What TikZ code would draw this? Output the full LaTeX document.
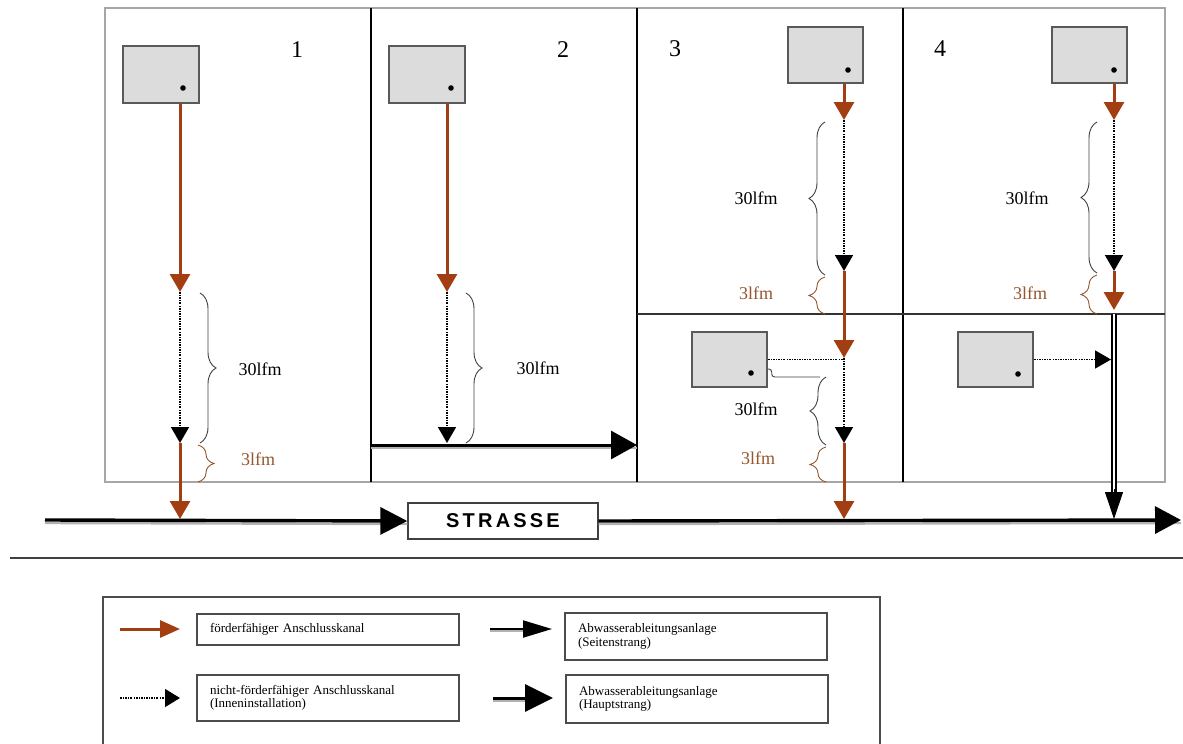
\documentclass[tikz,border=0pt]{standalone}
\usepackage{fontspec}
\setmainfont{Liberation Serif}
\setsansfont{Liberation Sans}
\usetikzlibrary{arrows.meta,decorations.pathreplacing,calc}
\definecolor{kanal}{RGB}{163,62,18}
\definecolor{kanaltext}{RGB}{150,85,45}
\definecolor{hausgrau}{RGB}{220,220,220}
\begin{document}
\begin{tikzpicture}[x=1pt,y=-1pt,
    haus/.style={draw=black!65, line width=1.4pt, fill=hausgrau, minimum width=76pt, minimum height=57pt, inner sep=0pt},
    foerder/.style={draw=kanal, line width=3pt, -{Triangle[length=18pt,width=20pt]}},
    innenlinie/.style={line width=1.6pt, dash pattern=on 2pt off 1.2pt on 0.8pt off 1.2pt},
    innen/.style={innenlinie, -{Triangle[length=16pt,width=18pt]}},
    klammer/.style={decorate, decoration={brace, amplitude=16pt}, line width=0.9pt, draw=black!75},
    kklammer/.style={klammer, draw=kanaltext},
    nummer/.style={font=\fontsize{24}{26}\selectfont},
    mass/.style={font=\fontsize{18}{20}\selectfont},
    kmass/.style={mass, text=kanaltext},
    legende/.style={draw=black!70, line width=1.2pt, inner xsep=13pt, inner ysep=0pt, text width=236pt, align=left, font=\fontsize{13}{13.5}\selectfont}]
    \useasboundingbox (0,0) rectangle (1183,744);

    \draw[gray!70, line width=1.6pt] (105,8) rectangle (1165,482);
    \draw[line width=2.2pt] (371,8) -- (371,482);
    \draw[line width=2.2pt] (637,8) -- (637,482);
    \draw[line width=2.2pt] (903,8) -- (903,482);
    \draw[black!80, line width=1.2pt] (637,314) -- (1165,314);

    \node[nummer] (n1) at (297,50) {1};
    \node[nummer] (n2) at (563,50) {2};
    \node[nummer] (n3) at (675,49) {3};
    \node[nummer] (n4) at (940,49) {4};

    \node[haus] (h1) at (161,74.5) {};
    \node[haus] (h2) at (427,74.5) {};
    \node[haus, minimum width=75pt, minimum height=56pt] (h3) at (825.5,55) {};
    \node[haus, minimum width=75pt, minimum height=56pt] (h4) at (1089.5,55) {};
    \node[haus, minimum width=75pt, minimum height=55pt] (h5) at (729.5,359.5) {};
    \node[haus, minimum width=75pt, minimum height=55pt] (h6) at (995.5,359.5) {};
    \fill (183,88) circle (2.8);
    \fill (451,88) circle (2.8);
    \fill (848,70) circle (2.8);
    \fill (1114,70) circle (2.8);
    \fill (751,373) circle (2.8);
    \fill (1018,374) circle (2.8);

    \node[draw=black!75, line width=1.4pt, minimum width=190pt, minimum height=36pt, font=\sffamily\bfseries\fontsize{20}{22}\selectfont\addfontfeatures{LetterSpace=16}] (strasse) at (503,521) {STRASSE};
    \coordinate (s0) at (45,520);
    \coordinate (s9) at (1181,520);
    \draw[gray!60, line width=2.4pt] ([yshift=-3pt]s0) -- ([yshift=-3pt]strasse.west);
    \draw[gray!60, line width=2.4pt] ([yshift=-3pt]strasse.east) -- ([yshift=-3pt]s9);
    \draw[line width=3.4pt, -{Triangle[length=27pt,width=27pt]}] (s0) -- (strasse.west);
    \draw[line width=3.4pt, -{Triangle[length=26pt,width=27pt]}] (strasse.east) -- (s9);
    \draw[black!75, line width=1.4pt] (10,558) -- (1183,558);

    \coordinate (k1a) at (180,292);
    \coordinate (k1b) at (180,443);
    \coordinate (r1) at (180,519);
    \draw[foerder] (h1.south -| k1a) -- (k1a);
    \draw[innen] (k1a) -- (k1b);
    \draw[foerder] (k1b) -- (r1);
    \draw[klammer] (200,293) -- (200,443);
    \draw[kklammer] (198,445) -- (198,482);
    \node[mass] (m1) at (260,369) {30lfm};
    \node[kmass] (m1k) at (258,459) {3lfm};

    \coordinate (s2a) at (371,445);
    \coordinate (s2b) at (637,445);
    \draw[gray!60, line width=2.4pt] ([yshift=-3pt]s2a) -- ([yshift=-3pt]s2b);
    \draw[line width=3pt, -{Triangle[length=26pt,width=28pt]}] (s2a) -- (s2b);
    \coordinate (k2a) at (447,292);
    \coordinate (k2b) at (447,443);
    \draw[foerder] (h2.south -| k2a) -- (k2a);
    \draw[innen] (k2a) -- (k2b);
    \draw[klammer] (466,293) -- (466,443);
    \node[mass] (m2) at (538,368) {30lfm};

    \coordinate (k3a) at (844,120);
    \coordinate (k3b) at (844,271);
    \coordinate (k3c) at (844,358);
    \coordinate (k3d) at (844,443);
    \coordinate (r3) at (844,519);
    \draw[foerder] (h3.south -| k3a) -- (k3a);
    \draw[innen] (k3a) -- (k3b);
    \draw[foerder] (k3b) -- (k3c);
    \draw[innenlinie] (h5.east) -- (h5.east -| k3c);
    \draw[innen] (k3c) -- (k3d);
    \draw[foerder] (k3d) -- (r3);
    \draw[klammer] (825,275) -- (825,122);
    \draw[kklammer] (825,314) -- (825,277);
    \node[mass] (m3) at (756,198) {30lfm};
    \node[kmass] (m3k) at (756,293) {3lfm};
    \draw[black!75, line width=0.9pt, rounded corners=3pt] (h5.east |- 0,369) -- ++(4,0) |- (820,377);
    \draw[klammer] (826,445) -- (826,377);
    \draw[kklammer] (826,482) -- (826,447);
    \node[mass] (m5) at (756,409) {30lfm};
    \node[kmass] (m5k) at (758,458) {3lfm};

    \coordinate (k4a) at (1114,120);
    \coordinate (k4b) at (1114,271);
    \coordinate (k4c) at (1114,310);
    \coordinate (k4d) at (1114,314);
    \coordinate (r4) at (1114,519);
    \draw[foerder] (h4.south -| k4a) -- (k4a);
    \draw[innen] (k4a) -- (k4b);
    \draw[foerder] (k4b) -- (k4c);
    \draw[innen, shorten >=3pt] (h6.east) -- (h6.east -| k4a);
    \draw[line width=1.6pt, double, double distance=2.4pt] (k4d) -- ($(r4)+(0,-20)$);
    \draw[line width=1pt, -{Triangle[length=27pt,width=18pt]}] ($(r4)+(0,-30)$) -- (r4);
    \draw[klammer] (1097,273) -- (1097,122);
    \draw[kklammer] (1097,314) -- (1097,275);
    \node[mass] (m4) at (1027,198) {30lfm};
    \node[kmass] (m4k) at (1030,293) {3lfm};

    \draw[black!70, line width=1.2pt] (103,744) -- (103,597) -- (880,597) -- (880,744);
    \node[legende, minimum height=31pt] (t1) at (328,629.5) {förderfähiger Anschlusskanal};
    \node[legende, minimum height=46pt] (t2) at (328,698) {nicht-förderfähiger Anschlusskanal\\(Inneninstallation)};
    \node[legende, minimum height=47pt] (t3) at (696,636.5) {Abwasserableitungsanlage\\(Seitenstrang)};
    \node[legende, minimum height=48pt] (t4) at (697,699) {Abwasserableitungsanlage\\(Hauptstrang)};
    \coordinate (l1a) at (120,629);
    \coordinate (l2a) at (120,698);
    \coordinate (l3a) at (490,629);
    \coordinate (l4a) at (493,698);
    \draw[draw=kanal, line width=3pt, -{Triangle[length=20pt,width=17pt]}] (l1a) -- (l1a -| 180,0);
    \draw[innenlinie, line width=1.2pt, -{Triangle[length=15pt,width=18pt]}] (l2a) -- (l2a -| 180,0);
    \draw[gray!60, line width=1.6pt] ([yshift=-2.2pt]l3a) -- ([yshift=-2.2pt]l3a -| 540,0);
    \draw[line width=2pt, -{Triangle[length=29pt,width=17pt]}] (l3a) -- (l3a -| 552,0);
    \draw[gray!60, line width=2.2pt] ([yshift=-2.8pt]l4a) -- ([yshift=-2.8pt]l4a -| 540,0);
    \draw[line width=3pt, -{Triangle[length=28pt,width=27pt]}] (l4a) -- (l4a -| 553,0);
\end{tikzpicture}
\end{document}
